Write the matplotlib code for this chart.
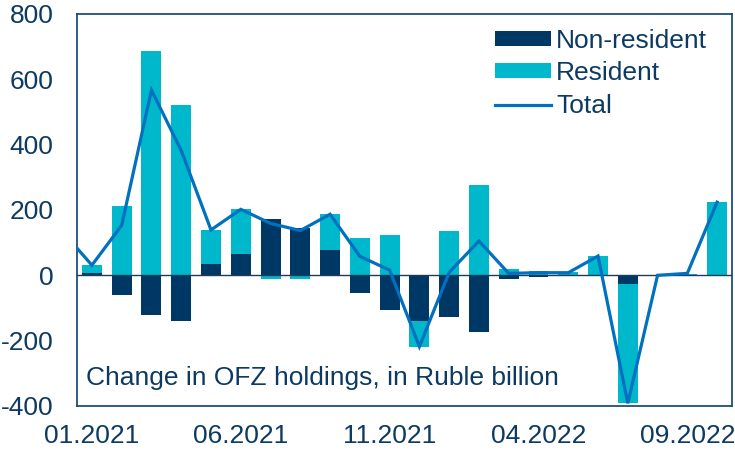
import matplotlib
matplotlib.use("Agg")
import matplotlib.pyplot as plt
import numpy as np

plt.rcParams['font.family'] = ['Liberation Sans', 'DejaVu Sans']

# months 12.2020 .. 10.2022 (first one is only partly visible via the line)
months = ["12.2020", "01.2021", "02.2021", "03.2021", "04.2021", "05.2021", "06.2021",
          "07.2021", "08.2021", "09.2021", "10.2021", "11.2021", "12.2021",
          "01.2022", "02.2022", "03.2022", "04.2022", "05.2022", "06.2022",
          "07.2022", "08.2022", "09.2022", "10.2022"]
non_resident = [0, 8, -60, -121, -139, 35, 65, 171, 145, 77, -55, -106, -139,
                -127, -173, -12, -6, -1, 0, -27, 0, 0, 0]
resident = [0, 23, 213, 688, 521, 104, 137, -12, -10, 110, 113, 122, -79,
            136, 278, 18, 14, 9, 59, -365, 0, 5, 224]
total = [135, 31, 153, 567, 382, 139, 202, 159, 137, 187, 58, 16, -218,
         9, 105, 6, 8, 8, 59, -392, 0, 6, 224]
tick_labels = ["01.2021", "06.2021", "11.2021", "04.2022", "09.2022"]
y_ticks = [-400, -200, 0, 200, 400, 600, 800]

NAVY = "#003865"
CYAN = "#00B8CC"
LINE = "#0070C0"
TEXT = "#0D3A63"

nr = np.array(non_resident, dtype=float)
rs = np.array(resident, dtype=float)
x = np.arange(len(months)) - 1  # 01.2021 at 0

# Excel-like stacking: positives stack on positives, negatives on negatives
nr_bottom = np.zeros_like(nr)
rs_bottom = np.where((rs >= 0) == (nr >= 0), nr, 0.0)

fig = plt.figure(figsize=(7.35, 4.5), dpi=100)
ax = fig.add_axes([0.1048, 0.0978, 0.8911, 0.8711])

w = 0.67
b1 = ax.bar(x, nr, width=w, bottom=nr_bottom, color=NAVY, label="Non-resident", zorder=2)
b2 = ax.bar(x, rs, width=w, bottom=rs_bottom, color=CYAN, label="Resident", zorder=2)
ax.axhline(0, color="#1F3A5A", lw=1.0, zorder=3)
l1, = ax.plot(x, total, color=LINE, lw=2.3, label="Total", zorder=4, solid_joinstyle='miter')

ax.set_xlim(-0.5, 21.5)
ax.set_ylim(-400, 800)
ax.set_yticks(y_ticks)
ax.set_yticklabels([str(v) for v in y_ticks])
tick_pos = [months.index(t) - 1 for t in tick_labels]
ax.set_xticks(tick_pos)
ax.set_xticklabels(tick_labels)
ax.tick_params(axis='both', length=0, labelsize=19, colors=TEXT)
ax.tick_params(axis='y', pad=17)
ax.tick_params(axis='x', pad=13)

for s in ax.spines.values():
    s.set_color("#1F4E79")
    s.set_linewidth(1.3)

leg = ax.legend(handles=[b1, b2, l1], loc="upper right", bbox_to_anchor=(0.99, 1.01),
                frameon=False, fontsize=19, handlelength=2.1, handleheight=0.5,
                handletextpad=0.2, labelspacing=0.33, borderaxespad=0.3)
for t in leg.get_texts():
    t.set_color(TEXT)

ax.text(0.014, 0.071, "Change in OFZ holdings, in Ruble billion", transform=ax.transAxes,
        fontsize=19, color=TEXT, va='center', ha='left')

fig.savefig("out.png", dpi=100)
